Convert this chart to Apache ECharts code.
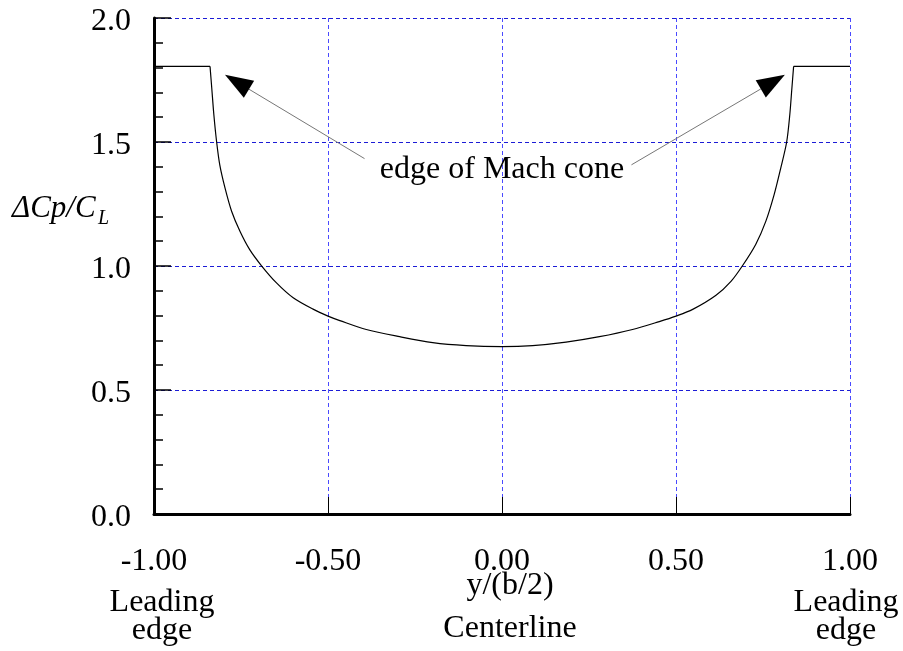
<!DOCTYPE html>
<html>
<head>
<meta charset="utf-8">
<script src="https://cdn.jsdelivr.net/npm/echarts@6/dist/echarts.min.js"></script>
<style>
  html, body { margin: 0; padding: 0; background: #fff; }
  #chart { width: 903px; height: 651px; }
</style>
</head>
<body>
<div id="chart"></div>
<script>
// Spanwise station y/(b/2) and pressure-difference ratio ΔCp/CL
const spanStation = [
  -1.000, -0.839, -0.834, -0.828, -0.820, -0.811, -0.796, -0.777, -0.753, -0.725,
  -0.691, -0.648, -0.600, -0.543, -0.500, -0.466, -0.390, -0.294, -0.199, -0.103,
   0.000,  0.088,  0.184,  0.280,  0.375,  0.452,  0.500,  0.548,  0.615,  0.658,
   0.691,  0.729,  0.758,  0.782,  0.801,  0.818,  0.827,  0.833,  0.838,  1.000
];
const loadRatio = [
   1.805,  1.805,  1.717,  1.610,  1.500,  1.408,  1.315,  1.221,  1.140,  1.066,
   1.001,  0.932,  0.872,  0.826,  0.798,  0.780,  0.744,  0.715,  0.691,  0.679,
   0.675,  0.679,  0.693,  0.715,  0.744,  0.776,  0.798,  0.825,  0.882,  0.938,
   1.001,  1.087,  1.180,  1.288,  1.395,  1.500,  1.610,  1.717,  1.805,  1.805
];

// Axis ranges
const xRange = { min: -1, max: 1, step: 0.5 };
const yRange = { min: 0, max: 2, step: 0.5 };

// Annotation: label position and the two arrows (tail -> tip), in data units
const noteText = 'edge of Mach cone';
const noteAnchor = [0.0, 1.39];
const arrowLeft = { from: [-0.395, 1.433], to: [-0.796, 1.771] };
const arrowRight = { from: [0.372, 1.408], to: [0.813, 1.771] };

const serif = "'Liberation Serif', 'Times New Roman', serif";
const FS = 32;

const chart = echarts.init(document.getElementById('chart'), null, { renderer: 'canvas' });

// the flat plateau outside the cone is drawn straight, the curved part smoothed
const capL = 2, capR = spanStation.length - 2;
const plateauLeft = spanStation.slice(0, capL).map((x, i) => [x, loadRatio[i]]);
const plateauRight = spanStation.slice(capR).map((x, i) => [x, loadRatio[capR + i]]);
const insideCone = spanStation.slice(capL - 1, capR + 1).map((x, i) => [x, loadRatio[capL - 1 + i]]);

const lineSeries = (data, smooth) => ({
  type: 'line', data, showSymbol: false, smooth,
  lineStyle: { color: '#000', width: 1.2 }, z: 5, silent: true
});

const option = {
  animation: false,
  backgroundColor: '#fff',
  grid: { left: 154, right: 53, top: 18, bottom: 137, containLabel: false },
  xAxis: {
    type: 'value',
    min: xRange.min, max: xRange.max, interval: xRange.step,
    axisLine: { show: true, onZero: false, lineStyle: { color: '#000', width: 3 } },
    axisTick: { show: true, inside: true, length: 17, lineStyle: { color: '#000', width: 1 } },
    axisLabel: {
      margin: 32, color: '#000', fontFamily: serif, fontSize: FS,
      formatter: v => v.toFixed(2)
    },
    splitLine: { show: true, lineStyle: { color: '#4a4aff', width: 1, type: [4, 3] } }
  },
  yAxis: {
    type: 'value',
    min: yRange.min, max: yRange.max, interval: yRange.step,
    axisLine: { show: true, onZero: false, lineStyle: { color: '#000', width: 3 } },
    axisTick: { show: true, inside: true, length: 17, lineStyle: { color: '#000', width: 1.5 } },
    minorTick: { show: true, splitNumber: 5, length: 9, lineStyle: { color: '#000', width: 1.5 } },
    axisLabel: {
      margin: 23, color: '#000', fontFamily: serif, fontSize: FS,
      formatter: v => '{v|' + v.toFixed(1) + '}',
      rich: { v: { fontFamily: serif, fontSize: FS, color: '#000', padding: [7, 0, 0, 0] } }
    },
    splitLine: { show: true, lineStyle: { color: '#1c1cd6', width: 1, type: [4, 3] } }
  },
  series: [
    lineSeries(plateauLeft, false),
    lineSeries(insideCone, 0.3),
    lineSeries(plateauRight, false)
  ]
};
chart.setOption(option);

// Annotations placed through the grid's coordinate system
const px = p => chart.convertToPixel({ gridIndex: 0 }, p);

function arrowShapes(a) {
  const s = px(a.from), t = px(a.to);
  const dx = t[0] - s[0], dy = t[1] - s[1];
  const len = Math.hypot(dx, dy);
  const ux = dx / len, uy = dy / len;
  const headLen = 28, headHalf = 10;
  const bx = t[0] - ux * headLen, by = t[1] - uy * headLen;
  return [
    { type: 'line', shape: { x1: s[0], y1: s[1], x2: bx, y2: by },
      style: { stroke: '#777', lineWidth: 1 }, z: 10 },
    { type: 'polygon',
      shape: { points: [t, [bx - uy * headHalf, by + ux * headHalf], [bx + uy * headHalf, by - ux * headHalf]] },
      style: { fill: '#000' }, z: 10 }
  ];
}

const na = px(noteAnchor);
const left = px([xRange.min, 0]);
const right = px([xRange.max, 0]);
const mid = px([0, 0]);

const textStyle = (x, y, text, extra) => ({
  type: 'text', x, y, z: 10,
  style: Object.assign({ text, fill: '#000', font: FS + 'px ' + serif, align: 'center', verticalAlign: 'middle' }, extra || {})
});

chart.setOption({
  graphic: [
    ...arrowShapes(arrowLeft),
    ...arrowShapes(arrowRight),
    textStyle(na[0], na[1], noteText),
    textStyle(left[0] + 8, 603, 'Leading'),
    textStyle(left[0] + 8, 631, 'edge'),
    textStyle(right[0] - 4, 603, 'Leading'),
    textStyle(right[0] - 4, 631, 'edge'),
    textStyle(mid[0] + 8, 586, 'y/(b/2)'),
    textStyle(mid[0] + 8, 629, 'Centerline'),
    { type: 'text', x: 12, y: 209, z: 10,
      style: { text: 'ΔCp/C', fill: '#000', font: 'italic 31px ' + serif, align: 'left', verticalAlign: 'middle' } },
    { type: 'text', x: 98, y: 219, z: 10,
      style: { text: 'L', fill: '#000', font: 'italic 20px ' + serif, align: 'left', verticalAlign: 'middle' } }
  ]
});
</script>
</body>
</html>
